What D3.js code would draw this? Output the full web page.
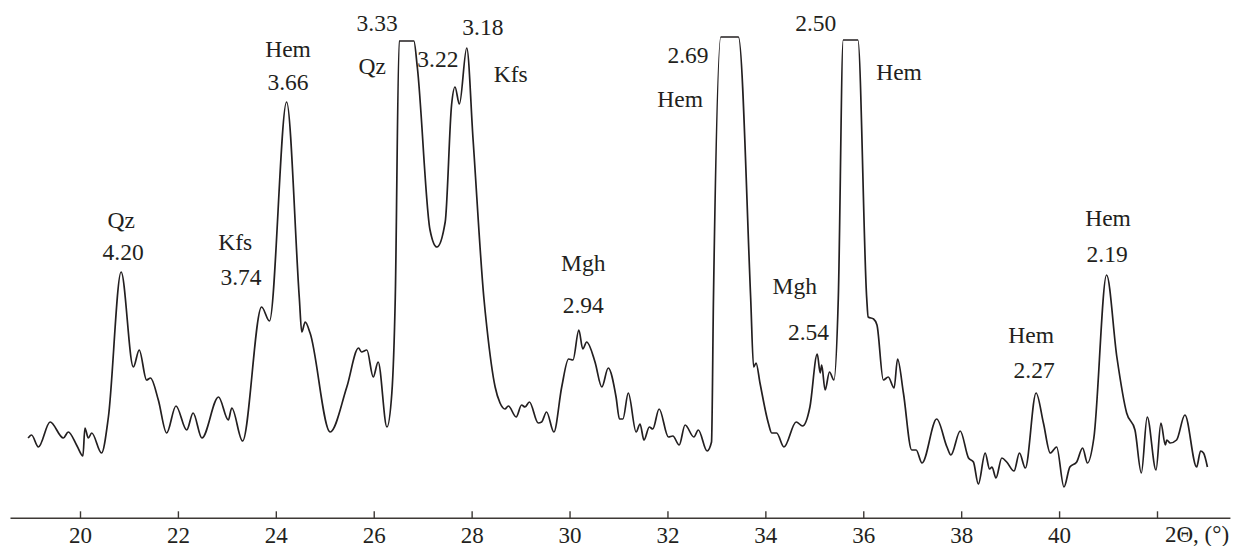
<!DOCTYPE html>
<html>
<head>
<meta charset="utf-8">
<script src="https://cdn.jsdelivr.net/npm/d3@7"></script>
<style>
  body { margin: 0; background: #fff; }
  svg text { font-family: "Liberation Serif", "DejaVu Serif", serif; fill: #231f20; }
</style>
</head>
<body>
<div id="svg"></div>
<script>

// diffractogram, 2theta in degrees / intensity in arbitrary units
var twoTheta = [18.94, 19.01, 19.15, 19.39, 19.66, 19.76, 19.94, 20.06, 20.10, 20.17,
                20.24, 20.44, 20.58, 20.84, 21.09, 21.21, 21.36, 21.44, 21.60, 21.77,
                21.96, 22.18, 22.31, 22.49, 22.83, 23.03, 23.10, 23.32, 23.71, 23.87,
                24.22, 24.48, 24.53, 24.60, 24.70, 25.11, 25.45, 25.69, 25.75, 25.86,
                25.99, 26.09, 26.27, 26.37, 26.44, 26.52, 26.82, 26.89, 27.15, 27.29,
                27.46, 27.59, 27.66, 27.75, 27.90, 28.03, 28.25, 28.31, 28.48, 28.58,
                28.68, 28.75, 28.91, 29.02, 29.09, 29.18, 29.36, 29.43, 29.53, 29.68,
                29.84, 29.98, 30.07, 30.19, 30.27, 30.35, 30.52, 30.66, 30.79, 30.95,
                31.02, 31.09, 31.20, 31.36, 31.44, 31.52, 31.63, 31.70, 31.83, 32.02,
                32.11, 32.24, 32.36, 32.54, 32.63, 32.81, 32.90, 32.94, 33.09, 33.45,
                33.70, 33.76, 33.81, 33.89, 34.06, 34.13, 34.23, 34.38, 34.63, 34.76,
                34.91, 35.06, 35.12, 35.15, 35.22, 35.31, 35.40, 35.49, 35.59, 35.89,
                36.07, 36.10, 36.21, 36.28, 36.41, 36.51, 36.63, 36.70, 36.82, 36.99,
                37.08, 37.20, 37.50, 37.71, 37.79, 37.98, 38.15, 38.25, 38.35, 38.49,
                38.58, 38.63, 38.71, 38.83, 38.93, 39.08, 39.19, 39.31, 39.53, 39.68,
                39.82, 39.95, 40.10, 40.22, 40.36, 40.48, 40.58, 40.71, 40.97, 41.18,
                41.38, 41.55, 41.68, 41.80, 41.98, 42.08, 42.17, 42.20, 42.27, 42.40,
                42.57, 42.81, 42.89, 42.95, 43.03];

var intensity = [50, 53, 41, 66, 50, 56, 42, 32, 60, 50,
                 55, 35, 71, 216, 121, 138, 108, 110, 88, 55,
                 82, 58, 75, 50, 91, 68, 80, 47, 181, 167,
                 386, 190, 156, 166, 155, 56, 101, 140, 136, 138,
                 111, 126, 61, 95, 190, 447, 447, 421, 258, 241,
                 266, 383, 401, 384, 440, 348, 190, 161, 101, 85,
                 79, 82, 71, 83, 81, 86, 65, 66, 76, 56,
                 101, 129, 128, 158, 139, 146, 126, 101, 120, 91,
                 69, 69, 95, 56, 64, 48, 61, 59, 79, 51,
                 52, 43, 63, 51, 58, 37, 46, 190, 451, 451,
                 190, 121, 125, 105, 65, 55, 55, 41, 66, 62,
                 81, 134, 115, 123, 98, 116, 108, 190, 448, 448,
                 190, 171, 169, 163, 108, 111, 100, 129, 95, 38,
                 38, 25, 69, 41, 33, 57, 30, 26, 4, 35,
                 19, 21, 10, 30, 26, 17, 35, 20, 95, 65,
                 35, 41, 1, 21, 26, 40, 25, 50, 213, 131,
                 75, 58, 15, 71, 18, 65, 43, 48, 45, 48,
                 73, 21, 37, 35, 21];

// phase labels : text, 2theta, intensity level of the baseline
var labelText  = ["Qz", "4.20", "Kfs", "3.74", "Hem", "3.66", "3.33", "Qz", "3.22", "3.18",
                  "Kfs", "2.69", "Hem", "Mgh", "2.94", "2.50", "Hem", "Mgh", "2.54", "Hem",
                  "2.27", "Hem", "2.19"];
var labelTheta = [20.84, 20.88, 23.17, 23.29, 24.25, 24.25, 26.07, 25.97, 27.31, 28.23,
                  28.80, 32.42, 32.26, 30.28, 30.28, 35.03, 36.73, 34.60, 34.88, 39.43,
                  39.49, 41.00, 40.98];
var labelLevel = [260, 228, 238, 203, 431, 398, 457, 414, 421, 453,
                  406, 425, 381, 217, 175, 457, 408, 194, 148, 145,
                  110, 262, 226];

var tickValues = [20, 22, 24, 26, 28, 30, 32, 34, 36, 38, 40, 42];
var axisTitle = "2\u0398, (\u00b0)";

var width = 1233, height = 546;
var axis_y = 518.3;
var serif = "Liberation Serif, DejaVu Serif, serif";

var x = d3.scaleLinear().domain([20, 42]).range([80, 1157]);
var y = d3.scaleLinear().domain([0, 450]).range([488, 38]);

var svg = d3.select("#svg").append("svg")
    .attr("width", width)
    .attr("height", height)
    .attr("font-family", serif);

svg.append("rect")
    .attr("width", width)
    .attr("height", height)
    .attr("fill", "#fff");

// axis, ticks pointing up
var axis = d3.axisBottom(x)
    .tickValues(tickValues)
    .tickSizeInner(-7)
    .tickSizeOuter(0)
    .tickPadding(8)
    .tickFormat(function(d) { return d == 42 ? "" : d; });

var ag = svg.append("g")
    .attr("transform", "translate(0," + axis_y + ")")
    .call(axis)
    .attr("font-family", serif);

ag.select(".domain").remove();
ag.selectAll(".tick line")
    .attr("stroke", "#3d3935")
    .attr("stroke-width", 1.4);
ag.selectAll(".tick text")
    .attr("font-size", 23)
    .attr("fill", "#231f20");

ag.append("line")
    .attr("x1", x(18.58))
    .attr("x2", x(43.5))
    .attr("y1", 0)
    .attr("y2", 0)
    .attr("stroke", "#3d3935")
    .attr("stroke-width", 1.5);

svg.append("text")
    .attr("x", x(42) + 8)
    .attr("y", axis_y + 24)
    .attr("font-size", 23)
    .attr("text-anchor", "start")
    .text(axisTitle);

// pattern
var pts = twoTheta.map(function(t, i) { return [t, intensity[i]]; });

var line = d3.line()
    .x(function(d) { return x(d[0]); })
    .y(function(d) { return y(d[1]); })
    .curve(d3.curveMonotoneX);

svg.append("path")
    .datum(pts)
    .attr("d", line)
    .attr("fill", "none")
    .attr("stroke", "#231f20")
    .attr("stroke-width", 1.7)
    .attr("stroke-linejoin", "round");

// labels
svg.append("g")
    .selectAll("text")
    .data(labelText)
    .join("text")
    .attr("x", function(d, i) { return x(labelTheta[i]); })
    .attr("y", function(d, i) { return y(labelLevel[i]); })
    .attr("font-size", 23.5)
    .attr("text-anchor", "middle")
    .text(function(d) { return d; });

</script>
</body>
</html>
